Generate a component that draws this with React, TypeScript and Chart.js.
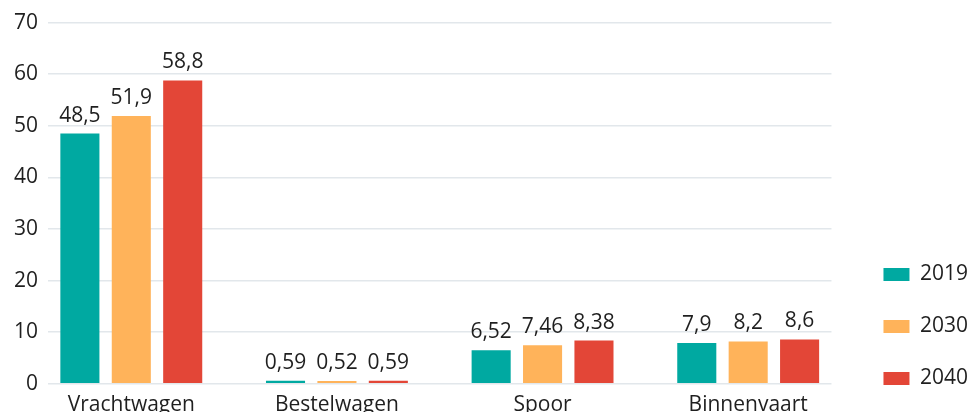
import React, { useEffect, useRef } from "react";
import { Chart, registerables } from "chart.js";

Chart.register(...registerables);

const categories = ["Vrachtwagen", "Bestelwagen", "Spoor", "Binnenvaart"];
const years = ["2019", "2030", "2040"];
const values2019 = [48.5, 0.59, 6.52, 7.9];
const values2030 = [51.9, 0.52, 7.46, 8.2];
const values2040 = [58.8, 0.59, 8.38, 8.6];
const colors = ["#00a9a1", "#ffb35a", "#e34637"];
const yTicks = [0, 10, 20, 30, 40, 50, 60, 70];

const FONT = "'Open Sans', 'Noto Sans', sans-serif";
const TEXT = "#1f1f1f";
const FS = 21;

const valueLabels = {
  id: "valueLabels",
  afterDatasetsDraw(chart: any) {
    const ctx = chart.ctx;
    ctx.save();
    ctx.font = `${FS}px ${FONT}`;
    ctx.fillStyle = TEXT;
    ctx.textAlign = "center";
    ctx.textBaseline = "alphabetic";
    chart.data.datasets.forEach((ds: any, i: number) => {
      const meta = chart.getDatasetMeta(i);
      meta.data.forEach((el: any, j: number) => {
        const label = String(ds.data[j]).replace(".", ",");
        ctx.fillText(label, el.x, el.y - 12);
      });
    });
    ctx.restore();
  },
};

// move the legend to keep a wider gap from the plot area and raise it a bit
const LEGEND_DY = -7;
const legendShift = {
  id: "legendShift",
  afterLayout(chart: any) {
    const lg = chart.legend;
    if (!lg) return;
    const dx = chart.chartArea.right + 21 - lg.left;
    lg.left += dx;
    lg.right += dx;
    lg.top += LEGEND_DY;
    lg.bottom += LEGEND_DY;
  },
};

export default function App() {
  const ref = useRef<HTMLCanvasElement | null>(null);
  useEffect(() => {
    if (!ref.current) return;
    const series = [values2019, values2030, values2040];
    const chart = new Chart(ref.current, {
      type: "bar",
      data: {
        labels: categories,
        datasets: years.map((y, i) => ({
          label: y,
          data: series[i],
          backgroundColor: colors[i],
          borderWidth: 0,
          categoryPercentage: 0.75,
          barPercentage: 0.76,
        })),
      },
      options: {
        animation: false,
        responsive: true,
        maintainAspectRatio: false,
        layout: { padding: { left: 4, right: 14, top: 14, bottom: 0 } },
        plugins: {
          legend: {
            position: "right",
            align: "end",
            labels: {
              boxWidth: 26,
              boxHeight: 13,
              padding: 31,
              color: TEXT,
              font: { family: FONT, size: FS },
            },
          },
          tooltip: { enabled: false },
        },
        scales: {
          x: {
            afterBuildTicks: (scale: any) => {
              scale._startValue = -0.405;
              scale._valueRange = categories.length - 1 + 0.81;
            },
            grid: { display: false, drawTicks: false },
            border: { display: false },
            ticks: { color: TEXT, font: { family: FONT, size: FS }, padding: 9, maxRotation: 0 },
          },
          y: {
            min: 0,
            max: 70,
            afterBuildTicks: (scale: any) => {
              scale.ticks = yTicks.map((v) => ({ value: v }));
            },
            grid: { color: "#e2e7eb", drawTicks: false, lineWidth: 1.5 },
            border: { display: false },
            ticks: { color: TEXT, font: { family: FONT, size: FS }, padding: 10 },
          },
        },
      },
      plugins: [valueLabels, legendShift],
    });
    return () => chart.destroy();
  }, []);
  return (
    <div style={{ position: "fixed", left: 0, top: 0, width: 971, height: 412, overflow: "hidden" }}>
      <div style={{ position: "relative", width: 971, height: 427 }}>
        <canvas ref={ref} />
      </div>
    </div>
  );
}
